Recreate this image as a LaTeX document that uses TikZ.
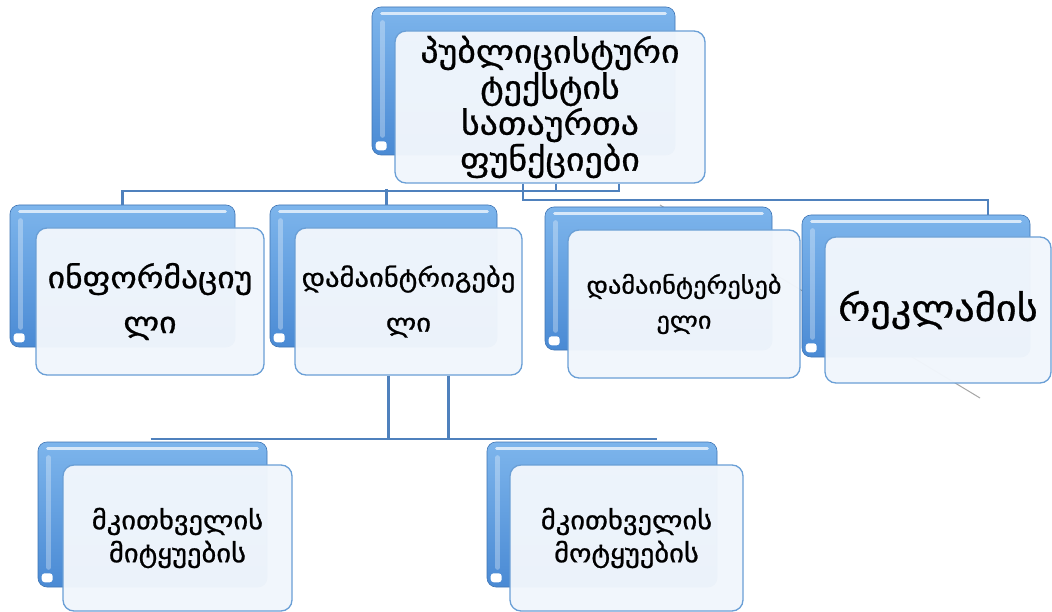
\documentclass[tikz,border=0pt]{standalone}
\usepackage{fontspec}
\newfontfamily\geo[FakeStretch=1.12, FakeBold=0.9]{DejaVu Sans}
\usetikzlibrary{calc}
\definecolor{tubeA}{HTML}{7DB5EC}
\definecolor{tubeB}{HTML}{4A8AD4}
\definecolor{rim}{HTML}{6A9FD6}
\definecolor{paper}{HTML}{F1F6FC}
\definecolor{wire}{HTML}{4F81BD}
\tikzset{
  tube/.style={rounded corners=9pt, top color=tubeA, bottom color=tubeB,
    draw=tubeB!85!black, line width=0.6pt, inner sep=0pt},
  card/.style={rounded corners=11pt, draw=rim, line width=1.3pt, fill=paper,
    fill opacity=0.97, text opacity=1, inner sep=0pt, align=center},
  wirel/.style={draw=wire, line width=2.2pt},
  gleam/.style={white, line width=3pt, opacity=0.7, line cap=round},
  stray/.style={draw=gray!70, line width=1pt},
}
% blue tube behind each card: name, centre x, centre y, width, height
\newcommand\tubebox[5]{%
  \node[tube, minimum width=#4pt, minimum height=#5pt] (#1) at (#2,#3) {};
  \draw[gleam] ([xshift=10pt,yshift=-7pt]#1.north west) -- ([xshift=-10pt,yshift=-7pt]#1.north east);
  \draw[white, opacity=0.3, line width=5pt, line cap=round]
    ([xshift=11pt,yshift=-16pt]#1.north west) -- ([xshift=11pt,yshift=20pt]#1.south west);
  \fill[white, rounded corners=3pt] ([xshift=4pt,yshift=5pt]#1.south west) rectangle ([xshift=15pt,yshift=14pt]#1.south west);
}
\begin{document}
\begin{tikzpicture}[x=1pt, y=-1pt]
\useasboundingbox (0,0) rectangle (1052,612);
\fill[white] (0,0) rectangle (1052,612);

% faint stray line behind the right-hand boxes
\coordinate (s1) at (660,205);
\coordinate (s2) at (980,398);
\draw[stray] (s1) -- (s2);

% back tubes
\tubebox{b0}{523.5}{81}{303}{148}
\tubebox{b1}{122.5}{276}{225}{142}
\tubebox{b2}{383.5}{276}{227}{142}
\tubebox{b3}{658.5}{278.5}{227}{143}
\tubebox{b4}{916}{286}{228}{142}
\tubebox{b5}{152.5}{514.5}{229}{145}
\tubebox{b6}{602}{514.5}{230}{145}

% front cards
\node[card, minimum width=310pt, minimum height=152pt,
  font=\geo\fontsize{32}{36}\selectfont] (c0) at (550,107)
  {პუბლიცისტური\\ტექსტის\\სათაურთა\\ფუნქციები};

% connectors from the heading card
\draw[wirel] (b1.north) |- ($(c0.south west)+(225,7)$) -- ($(c0.south west)+(225,0)$);
\draw[wirel] ([xshift=3pt]b2.north) -- ([xshift=3pt]b2.north |- 0,189);
\draw[wirel] ($(c0.south west)+(162,0)$) -- ++(0,7);
\draw[wirel] ($(c0.south west)+(129,0)$) |- ($(b4.north)+(72,-15)$) -- ($(b4.north)+(72,0)$);

\node[card, minimum width=228pt, minimum height=147pt,
  font=\geo\fontsize{30}{45}\selectfont] (c1) at (150,301.5)
  {ინფორმაციუ\\ლი};
\node[card, minimum width=227pt, minimum height=147pt,
  font=\geo\fontsize{25.5}{45}\selectfont] (c2) at (408.5,301.5)
  {დამაინტრიგებე\\ლი};
\node[card, minimum width=232pt, minimum height=148pt,
  font=\geo\fontsize{23.5}{35}\selectfont] (c3) at (684,304)
  {დამაინტერესებ\\ელი};
\node[card, minimum width=226pt, minimum height=146pt,
  font=\geo\fontsize{36}{45}\selectfont] (c4) at (938,310)
  {რეკლამის};

% connectors to the lower row
\draw[wirel] ($(c2.south)+(-20,0)$) -- ++(0,64);
\draw[wirel] ($(c2.south)+(40,0)$) -- ++(0,64);
\draw[wirel] ($(b5.north)+(-2,-3)$) -- ($(b6.north)+(55,-3)$);

\node[card, minimum width=229pt, minimum height=146pt,
  font=\geo\fontsize{25.5}{33}\selectfont] (c5) at (177.5,538)
  {მკითხველის\\მიტყუების};
\node[card, minimum width=233pt, minimum height=146pt,
  font=\geo\fontsize{25.5}{33}\selectfont] (c6) at (626.5,538)
  {მკითხველის\\მოტყუების};
\end{tikzpicture}
\end{document}
